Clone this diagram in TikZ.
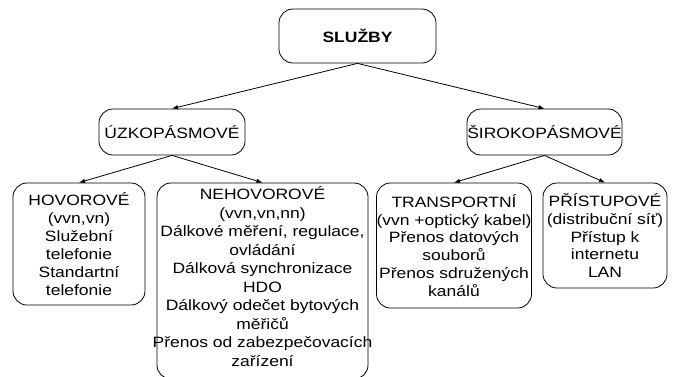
\documentclass[tikz,border=0pt]{standalone}
\usepackage{fontspec}
\setmainfont{Liberation Sans}[FakeStretch=1.17]
\usetikzlibrary{arrows.meta}
\begin{document}
\begin{tikzpicture}[x=1bp,y=-1bp,
  box/.style={draw, rounded corners=14bp, line width=0.8bp, inner sep=0pt,
    align=center, font=\fontsize{15}{18}\selectfont},
  txt/.style={inner sep=0pt, align=center, font=\fontsize{15}{18.6}\selectfont},
  link/.style={line width=0.8bp, -{Latex[length=6bp,width=4.5bp]}}]
\useasboundingbox (0,0) rectangle (674,376);

% root
\node[box, minimum width=157bp, minimum height=54bp, font=\fontsize{15}{18}\selectfont\bfseries]
  (sluzby) at (357.5,36) {SLUŽBY};

% second level
\node[box, minimum width=146bp, minimum height=46bp] (uzko) at (172,132) {ÚZKOPÁSMOVÉ};
\node[box, minimum width=155bp, minimum height=46bp] (siro) at (544.5,132) {ŠIROKOPÁSMOVÉ};

% leaves
\node[box, minimum width=132bp, minimum height=122bp] (hovor) at (79,244)
  {HOVOROVÉ\\(vvn,vn)\\Služební\\telefonie\\Standartní\\telefonie};
% tall box runs past the lower page edge; its text is set separately
\node[box, minimum width=211bp, minimum height=196bp] (nehovor) at (262.5,281) {};
\node[txt, anchor=north] (nehovortext) at (262.5,186.4)
  {NEHOVOROVÉ\\(vvn,vn,nn)\\Dálkové měření, regulace,\\ovládání\\Dálková synchronizace\\HDO\\Dálkový odečet bytových\\měřičů\\Přenos od zabezpečovacích\\zařízení};
\node[box, minimum width=152bp, minimum height=125bp] (transport) at (454,245.5)
  {TRANSPORTNÍ\\(vvn +optický kabel)\\Přenos datových\\souborů\\Přenos sdružených\\kanálů};
\node[box, minimum width=124bp, minimum height=105bp] (pristup) at (605,235.5)
  {PŘÍSTUPOVÉ\\(distribuční síť)\\Přístup k\\internetu\\LAN};

% connectors
\draw[link] (sluzby.south) -- (uzko.north);
\draw[link] (sluzby.south) -- (siro.north);
\draw[link] (uzko.south) -- (hovor.north);
\draw[link] (uzko.south) -- (nehovor.north);
\draw[link] (siro.south) -- (transport.north);
\draw[link] (siro.south) -- (pristup.north);
\end{tikzpicture}
\end{document}
